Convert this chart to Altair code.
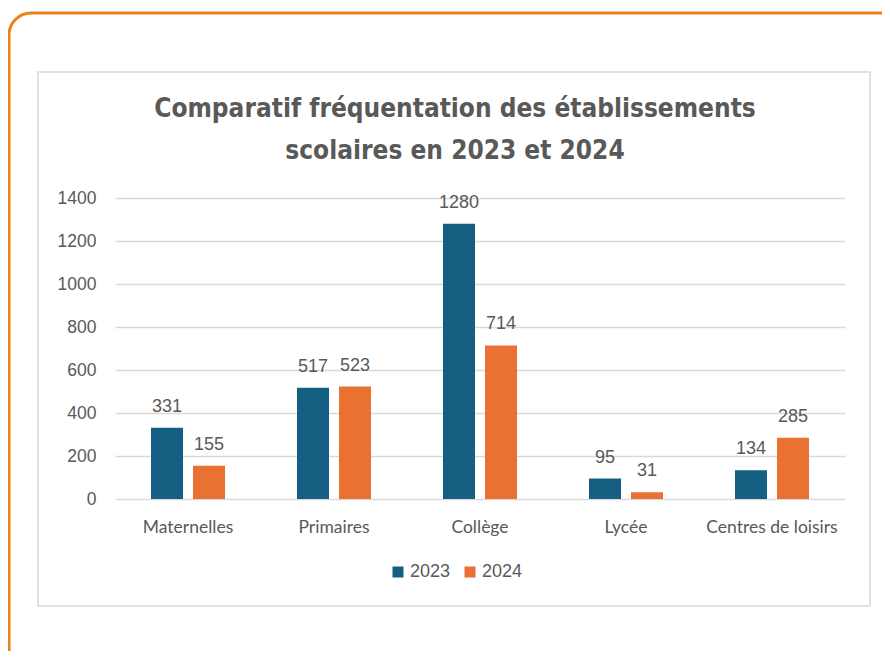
import altair as alt
import pandas as pd

categories = ["Maternelles", "Primaires", "Collège", "Lycée", "Centres de loisirs"]
years = ["2023", "2024"]
values_2023 = [331, 517, 1280, 95, 134]
values_2024 = [155, 523, 714, 31, 285]
y_ticks = [0, 200, 400, 600, 800, 1000, 1200, 1400]
title_line1 = "Comparatif fréquentation des établissements"
title_line2 = "scolaires en 2023 et 2024"

rows = []
for c, a, b in zip(categories, values_2023, values_2024):
    rows.append({"cat": c, "year": "2023", "value": a})
    rows.append({"cat": c, "year": "2024", "value": b})
df = pd.DataFrame(rows)
one = pd.DataFrame({"k": [0]})

TXT = "#595959"
TFONT = "DejaVu Sans Condensed, Roboto, sans-serif"

frame = alt.Chart(one).mark_rect(
    fillOpacity=0, stroke="#ED8016", strokeWidth=3, cornerRadius=22
).encode(x=alt.value(-106), x2=alt.value(800), y=alt.value(-185), y2=alt.value(520))

box = alt.Chart(one).mark_rect(
    fillOpacity=0, stroke="#D9D9D9", strokeWidth=1.5
).encode(x=alt.value(-77), x2=alt.value(755), y=alt.value(-126), y2=alt.value(408))

t1 = alt.Chart(one).mark_text(
    text=title_line1, font=TFONT, fontSize=26, fontWeight="bold",
    color=TXT, align="center", baseline="middle"
).encode(x=alt.value(340), y=alt.value(-89))
t2 = alt.Chart(one).mark_text(
    text=title_line2, font=TFONT, fontSize=26, fontWeight="bold",
    color=TXT, align="center", baseline="middle"
).encode(x=alt.value(340), y=alt.value(-47))

x_enc = alt.X("cat:N", sort=categories,
              scale=alt.Scale(paddingInner=0.493, paddingOuter=0.2466),
              axis=alt.Axis(title=None, labelAngle=0, ticks=False, domain=False,
                            labelPadding=19, labelFont="Lato", labelFontSize=17.5,
                            labelColor=TXT, grid=False))
xo_enc = alt.XOffset("year:N", sort=years, scale=alt.Scale(paddingInner=0.238, paddingOuter=0))
y_enc = alt.Y("value:Q", scale=alt.Scale(domain=[0, 1400]),
              axis=alt.Axis(title=None, values=y_ticks, format="d", ticks=False, domain=False,
                            labelPadding=19, labelFont="Liberation Sans", labelFontSize=17.5,
                            labelColor=TXT, gridColor="#D9D9D9", gridWidth=1.5))

bars = alt.Chart(df).mark_bar().encode(
    x=x_enc, xOffset=xo_enc, y=y_enc,
    color=alt.Color("year:N", scale=alt.Scale(domain=years, range=["#156082", "#E97132"]),
                    legend=alt.Legend(title=None, orient="none", legendX=274, legendY=365,
                                      direction="horizontal", symbolType="square",
                                      symbolSize=121, symbolStrokeWidth=0,
                                      labelFontSize=18, labelColor=TXT, labelOffset=3,
                                      labelFont="Liberation Sans", columnPadding=10))
)

labels = alt.Chart(df).mark_text(
    baseline="middle", dy=-21, fontSize=18, color=TXT, font="Liberation Sans"
).encode(x=x_enc, xOffset=xo_enc, y=y_enc, text="value:Q")

chart = alt.layer(frame, box, t1, t2, bars, labels).properties(
    width=730, height=301,
    padding={"left": 107, "top": 190, "right": 37, "bottom": 152},
    autosize=alt.AutoSizeParams(type="none"),
    background="white",
).configure_view(stroke=None)

chart.save("out.html", embed_options={"renderer": "svg", "actions": False})
